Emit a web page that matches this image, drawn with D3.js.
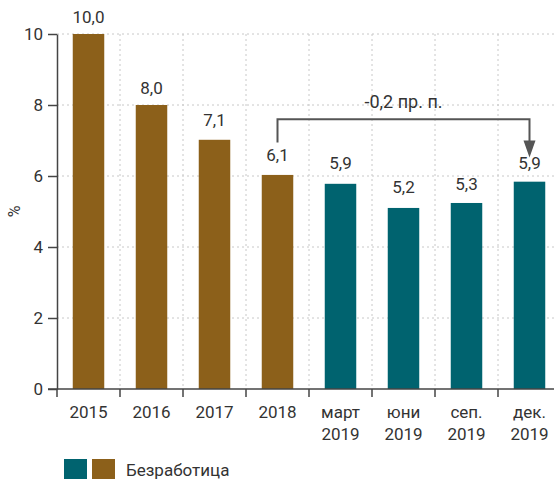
<!DOCTYPE html>
<html lang="bg">
<head>
<meta charset="utf-8">
<script src="https://cdn.jsdelivr.net/npm/d3@7"></script>
<style>
  body { margin: 0; background: #fff; }
  svg text { font-family: Roboto, "Noto Sans", sans-serif; fill: #333; }
</style>
</head>
<body>
<script>
  // categories (two-line labels)
  const categories = ['2015', '2016', '2017', '2018', 'март 2019', 'юни 2019', 'сеп. 2019', 'дек. 2019'];
  // reported rate (labels), and bar height
  const rateLabel = [10.0, 8.0, 7.1, 6.1, 5.9, 5.2, 5.3, 5.9];
  const rateBar = [10.0, 8.0, 7.02, 6.03, 5.78, 5.1, 5.24, 5.84];
  const isAnnual = [true, true, true, true, false, false, false, false];
  const yTicks = [0, 2, 4, 6, 8, 10];
  const changeLabel = '-0,2 пр. п.';
  const legendLabel = 'Безработица';

  const brown = '#8c601a';
  const teal = '#00636f';
  const axisColor = '#444';

  const width = 554;
  const height = 479;
  const margin = { top: 34, right: -7, bottom: 90, left: 57 };

  const svg = d3.select('body')
    .append('svg')
    .attr('width', width)
    .attr('height', height);

  const x = d3.scaleBand()
    .domain(categories)
    .range([margin.left, width - margin.right])
    .padding(0);

  const y = d3.scaleLinear()
    .domain([0, 10])
    .range([height - margin.bottom, margin.top]);

  const fmt = (v) => d3.format('.1f')(v).replace('.', ',');
  const barW = x.bandwidth() * 0.5;

  // grid
  svg.append('g')
    .selectAll('line')
    .data(yTicks.filter((d) => d > 0))
    .join('line')
    .attr('x1', margin.left)
    .attr('x2', width)
    .attr('y1', (d) => y(d))
    .attr('y2', (d) => y(d))
    .attr('stroke', '#c8c8c8')
    .attr('stroke-dasharray', '2,3');

  svg.append('g')
    .selectAll('line')
    .data(categories.slice(1))
    .join('line')
    .attr('x1', (d) => x(d))
    .attr('x2', (d) => x(d))
    .attr('y1', y(10))
    .attr('y2', y(0))
    .attr('stroke', '#c8c8c8')
    .attr('stroke-dasharray', '2,3');

  // bars
  svg.append('g')
    .selectAll('rect')
    .data(categories)
    .join('rect')
    .attr('x', (d) => x(d) + (x.bandwidth() - barW) / 2)
    .attr('width', barW)
    .attr('y', (d, i) => y(rateBar[i]))
    .attr('height', (d, i) => y(0) - y(rateBar[i]))
    .attr('fill', (d, i) => (isAnnual[i] ? brown : teal));

  // value labels
  svg.append('g')
    .selectAll('text')
    .data(categories)
    .join('text')
    .attr('x', (d) => x(d) + x.bandwidth() / 2)
    .attr('y', (d, i) => y(rateLabel[i]) - 11)
    .attr('text-anchor', 'middle')
    .attr('font-size', 17)
    .text((d, i) => fmt(rateLabel[i]));

  // y axis
  const yAxis = svg.append('g')
    .attr('transform', `translate(${margin.left},0)`)
    .call(d3.axisLeft(y).tickValues(yTicks).tickSize(9).tickPadding(5).tickSizeOuter(0));
  yAxis.select('.domain').attr('stroke', axisColor).attr('stroke-width', 1.5);
  yAxis.selectAll('.tick line').attr('stroke', axisColor).attr('stroke-width', 1.5);
  yAxis.selectAll('.tick text').attr('font-size', 17).attr('font-family', null).attr('fill', null);

  // x axis
  const xAxis = svg.append('g')
    .attr('transform', `translate(0,${y(0)})`);
  xAxis.append('line')
    .attr('x1', margin.left - 9)
    .attr('x2', width)
    .attr('stroke', axisColor)
    .attr('stroke-width', 1.5);
  xAxis.selectAll('line.tk')
    .data(categories)
    .join('line')
    .attr('class', 'tk')
    .attr('x1', (d) => x(d))
    .attr('x2', (d) => x(d))
    .attr('y1', 0)
    .attr('y2', 8)
    .attr('stroke', axisColor)
    .attr('stroke-width', 1.5);
  xAxis.selectAll('text')
    .data(categories)
    .join('text')
    .attr('x', (d) => x(d) + x.bandwidth() / 2)
    .attr('y', 29)
    .attr('text-anchor', 'middle')
    .attr('font-size', 17)
    .each(function (d) {
      const parts = d.split(' ');
      d3.select(this).selectAll('tspan')
        .data(parts)
        .join('tspan')
        .attr('x', x(d) + x.bandwidth() / 2)
        .attr('dy', (p, i) => (i ? 22 : 0))
        .text((p) => p);
    });

  // y label
  svg.append('text')
    .attr('transform', `translate(20,${(y(0) + y(10)) / 2}) rotate(-90)`)
    .attr('text-anchor', 'middle')
    .attr('font-size', 16)
    .text('%');

  // change bracket 2018 -> dec 2019
  const bx0 = x(categories[3]) + x.bandwidth() / 2;
  const bx1 = x(categories[7]) + x.bandwidth() / 2;
  const bTop = y(7.6);
  svg.append('path')
    .attr('d', `M${bx0},${y(6.1) - 30}V${bTop}H${bx1}V${y(6.1) - 30}`)
    .attr('fill', 'none')
    .attr('stroke', '#555')
    .attr('stroke-width', 2);
  svg.append('path')
    .attr('d', `M${bx1 - 6},${y(6.1) - 32}L${bx1 + 6},${y(6.1) - 32}L${bx1},${y(6.1) - 15}Z`)
    .attr('fill', '#555');
  svg.append('text')
    .attr('x', (bx0 + bx1) / 2)
    .attr('y', bTop - 11)
    .attr('text-anchor', 'middle')
    .attr('font-size', 18)
    .text(changeLabel);

  // legend
  const legend = svg.append('g').attr('transform', `translate(64,459)`);
  legend.append('rect').attr('width', 23).attr('height', 22).attr('fill', teal);
  legend.append('rect').attr('x', 28).attr('width', 23).attr('height', 22).attr('fill', brown);
  legend.append('text')
    .attr('x', 62)
    .attr('y', 17)
    .attr('font-size', 17)
    .text(legendLabel);
</script>
</body>
</html>
